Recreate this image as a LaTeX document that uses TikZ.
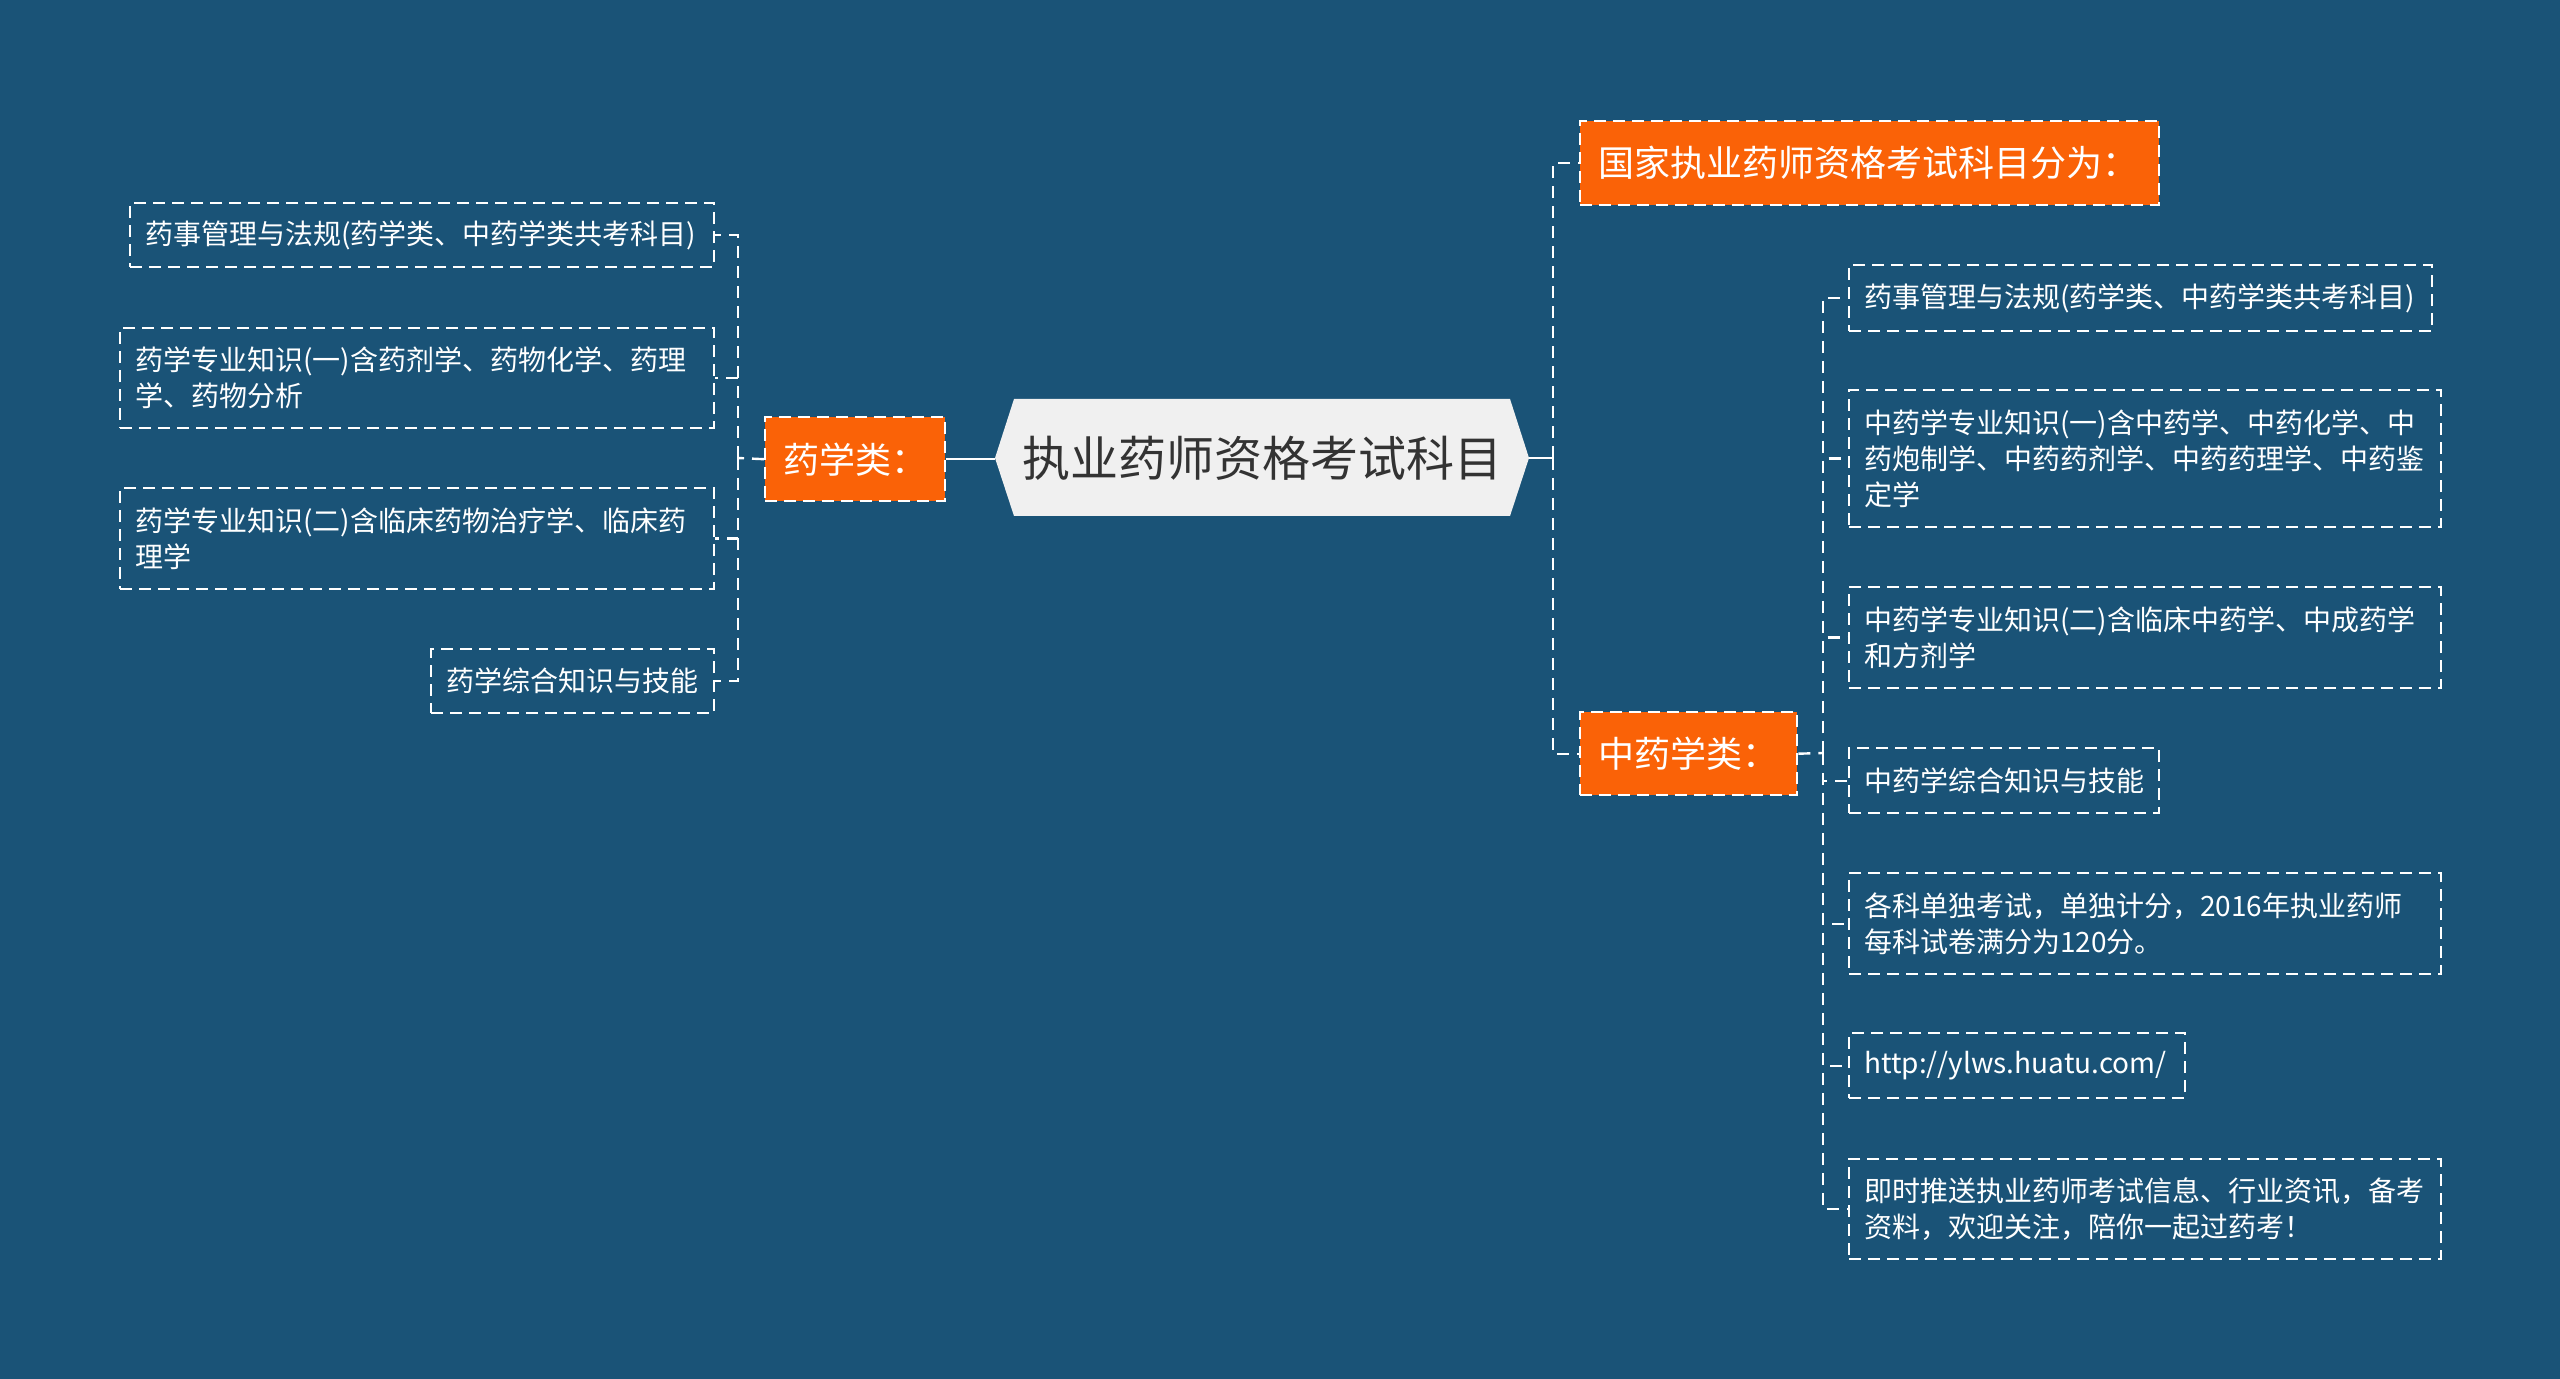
\documentclass[tikz,border=0pt]{standalone}
\usepackage{fontspec}
\newfontfamily\cjk{Noto Sans CJK SC}
\definecolor{bgblue}{HTML}{1A5377}
\definecolor{orangefill}{HTML}{FA6207}
\definecolor{rootfill}{HTML}{F0F0F0}
\definecolor{roottext}{HTML}{333333}
\tikzset{
  x=0.5pt, y=-0.5pt,
  leaf/.style={draw=white, dash pattern=on 6pt off 3.5pt, line width=1.2pt, text=white,
    font=\cjk\fontsize{14}{18}\selectfont, align=left, inner xsep=7.5pt, inner ysep=0pt,
    anchor=north west},
  cat/.style={fill=orangefill, draw=white, dash pattern=on 6pt off 3.5pt, line width=1.2pt,
    text=white, font=\cjk\fontsize{18}{22}\selectfont, align=left, inner xsep=9pt,
    inner ysep=0pt, anchor=north west},
  conn/.style={draw=white, line width=1.2pt, dash pattern=on 6pt off 4pt},
  solidconn/.style={draw=white, line width=1.2pt}
}
\begin{document}
\begin{tikzpicture}
\fill[bgblue] (0,0) rectangle (2560,1379);
\useasboundingbox (0,0) rectangle (2560,1379);

% root hexagon
\fill[rootfill] (995,458) -- (1014,399) -- (1510,399) -- (1529,458) -- (1510,516) -- (1014,516) -- cycle;
\node (root) [minimum width=267pt, minimum height=58.5pt, inner sep=0pt, outer sep=0pt, text=roottext,
  font=\cjk\fontsize{24}{28}\selectfont] at (1262,458) {执业药师资格考试科目};

% category nodes
\node (yao) [cat, minimum height=42pt, text width=72pt] at (764,416) {药学类：};
\node (guojia) [cat, minimum height=42pt, text width=271.5pt] at (1579,120) {国家执业药师资格考试科目分为：};
\node (zhong) [cat, minimum height=41.5pt, text width=90.5pt] at (1579,711) {中药学类：};

% left leaves
\node (L1) [leaf, minimum height=32pt, text width=277pt] at (129,202) {药事管理与法规(药学类、中药学类共考科目)};
\node (L2) [leaf, minimum height=50pt, text width=282pt] at (119,327) {药学专业知识(一)含药剂学、药物化学、药理\\学、药物分析};
\node (L3) [leaf, minimum height=50.5pt, text width=282pt] at (119,487) {药学专业知识(二)含临床药物治疗学、临床药\\理学};
\node (L4) [leaf, minimum height=32pt, text width=126.5pt] at (430,648) {药学综合知识与技能};

% right leaves
\node (R1) [leaf, minimum height=33pt, text width=276.5pt] at (1848,264) {药事管理与法规(药学类、中药学类共考科目)};
\node (R2) [leaf, minimum height=68.5pt, text width=281pt] at (1848,389) {中药学专业知识(一)含中药学、中药化学、中\\药炮制学、中药药剂学、中药药理学、中药鉴\\定学};
\node (R3) [leaf, minimum height=50.5pt, text width=281pt] at (1848,586) {中药学专业知识(二)含临床中药学、中成药学\\和方剂学};
\node (R4) [leaf, minimum height=32.5pt, text width=140pt] at (1848,747) {中药学综合知识与技能};
\node (R5) [leaf, minimum height=50.5pt, text width=281pt] at (1848,872) {各科单独考试，单独计分，2016年执业药师\\每科试卷满分为120分。};
\node (R6) [leaf, minimum height=32.5pt, text width=153pt] at (1848,1032) {http://ylws.huatu.com/};
\node (R7) [leaf, minimum height=50pt, text width=281pt] at (1848,1158) {即时推送执业药师考试信息、行业资讯，备考\\资料，欢迎关注，陪你一起过药考！};

% junctions
\coordinate (lj) at (738,458);
\coordinate (rj) at (1553,458);
\coordinate (zj) at (1823,753);

% connectors
\draw[solidconn] (yao.east) -- (yao.east -| root.west);
\draw[conn] (yao.west) -- (lj);
\foreach \n in {L1,L2,L3,L4} { \draw[conn] (lj) |- (\n.east); }

\draw[solidconn] (root.east) -- (rj);
\draw[conn] (rj) |- (guojia.west);
\draw[conn] (rj) |- (zhong.west);

\draw[conn] (zhong.east) -- (zj);
\foreach \n in {R1,R2,R3,R4,R5,R6,R7} { \draw[conn] (zj) |- (\n.west); }
\end{tikzpicture}
\end{document}
